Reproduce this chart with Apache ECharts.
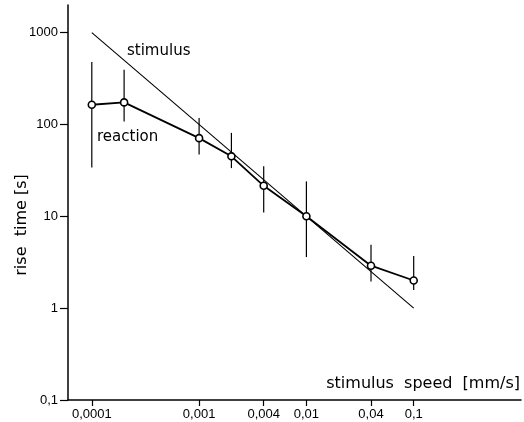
<!DOCTYPE html>
<html>
<head>
<meta charset="utf-8">
<script src="https://cdn.jsdelivr.net/npm/echarts@6/dist/echarts.min.js"></script>
<style>
  html, body { margin: 0; padding: 0; background: #fff; }
  #chart { width: 524px; height: 422px; }
</style>
</head>
<body>
<div id="chart"></div>
<script>
// stimulus speed (mm/s) of each measurement
const speeds = [0.0001, 0.0002, 0.001, 0.002, 0.004, 0.01, 0.04, 0.1];
// mean rise time of the reaction (s)
const reactionTime = [164, 174, 71, 45, 21.5, 10, 2.9, 2.0];
// error bar ends (s)
const errLow = [34, 108, 47, 33.5, 11, 3.6, 1.95, 1.58];
const errHigh = [480, 395, 118, 81, 35, 24, 4.9, 3.7];
// stimulus line end points
const stimulusSpeed = [0.0001, 0.1];
const stimulusTime = [1000, 1];

const xTicks = [0.0001, 0.001, 0.004, 0.01, 0.04, 0.1];
const xTickLabels = ['0,0001', '0,001', '0,004', '0,01', '0,04', '0,1'];
const yTicks = [0.1, 1, 10, 100, 1000];
const yTickLabels = ['0,1', '1', '10', '100', '1000'];

const ink = '#000';

function pickLabel(ticks, labels) {
  return (v) => {
    const i = ticks.findIndex((t) => Math.abs(Math.log10(v) - Math.log10(t)) < 0.01);
    return i < 0 ? '' : labels[i];
  };
}

const chart = echarts.init(document.getElementById('chart'), null, { renderer: 'canvas' });

chart.setOption({
  backgroundColor: '#fff',
  animation: false,
  grid: { left: 68, right: 3, top: 5, bottom: 22, containLabel: false, outerBoundsMode: 'none' },
  xAxis: {
    type: 'log',
    logBase: 10,
    min: 0.00006,
    max: 1,
    axisLine: { onZero: false, lineStyle: { color: ink, width: 1.5 } },
    axisTick: { customValues: xTicks, length: 6, inside: false, lineStyle: { color: ink, width: 1.2 } },
    axisLabel: {
      customValues: xTicks,
      formatter: pickLabel(xTicks, xTickLabels),
      margin: 8,
      color: ink,
      fontFamily: 'Liberation Sans',
      fontSize: 13,
    },
    splitLine: { show: false },
    minorTick: { show: false },
  },
  yAxis: {
    type: 'log',
    logBase: 10,
    min: 0.1,
    max: 2000,
    axisLine: { onZero: false, lineStyle: { color: ink, width: 1.5 } },
    axisTick: { customValues: yTicks, length: 8, inside: false, lineStyle: { color: ink, width: 1.2 } },
    axisLabel: {
      customValues: yTicks,
      formatter: pickLabel(yTicks, yTickLabels),
      margin: 10,
      color: ink,
      fontFamily: 'Liberation Sans',
      fontSize: 13,
    },
    splitLine: { show: false },
    minorTick: { show: false },
  },
  graphic: [
    {
      type: 'text',
      right: 4,
      top: 376,
      style: { text: 'stimulus  speed  [mm/s]', fill: ink, font: '16px "DejaVu Sans"' },
    },
    {
      type: 'text',
      x: 22,
      y: 225,
      rotation: Math.PI / 2,
      style: {
        text: 'rise  time [s]',
        fill: ink,
        font: '16px "DejaVu Sans"',
        align: 'center',
        verticalAlign: 'middle',
      },
    },
    {
      type: 'text',
      left: 127,
      top: 44,
      style: { text: 'stimulus', fill: ink, font: '15px "DejaVu Sans"' },
    },
    {
      type: 'text',
      left: 97,
      top: 130,
      style: { text: 'reaction', fill: ink, font: '15px "DejaVu Sans"' },
    },
  ],
  series: [
    {
      name: 'stimulus',
      type: 'line',
      data: stimulusSpeed.map((s, i) => [s, stimulusTime[i]]),
      showSymbol: false,
      lineStyle: { color: ink, width: 1.1 },
      z: 2,
    },
    {
      name: 'error',
      type: 'custom',
      data: speeds.map((s, i) => [s, errLow[i], errHigh[i]]),
      renderItem: (params, api) => {
        const a = api.coord([api.value(0), api.value(1)]);
        const b = api.coord([api.value(0), api.value(2)]);
        return {
          type: 'line',
          shape: { x1: a[0], y1: a[1], x2: b[0], y2: b[1] },
          style: { stroke: ink, lineWidth: 1.2 },
        };
      },
      z: 3,
    },
    {
      name: 'reaction',
      type: 'line',
      data: speeds.map((s, i) => [s, reactionTime[i]]),
      symbol: 'circle',
      symbolSize: 7,
      itemStyle: { color: '#fff', borderColor: ink, borderWidth: 1.6 },
      lineStyle: { color: ink, width: 1.8 },
      z: 4,
    },
  ],
});
</script>
</body>
</html>
